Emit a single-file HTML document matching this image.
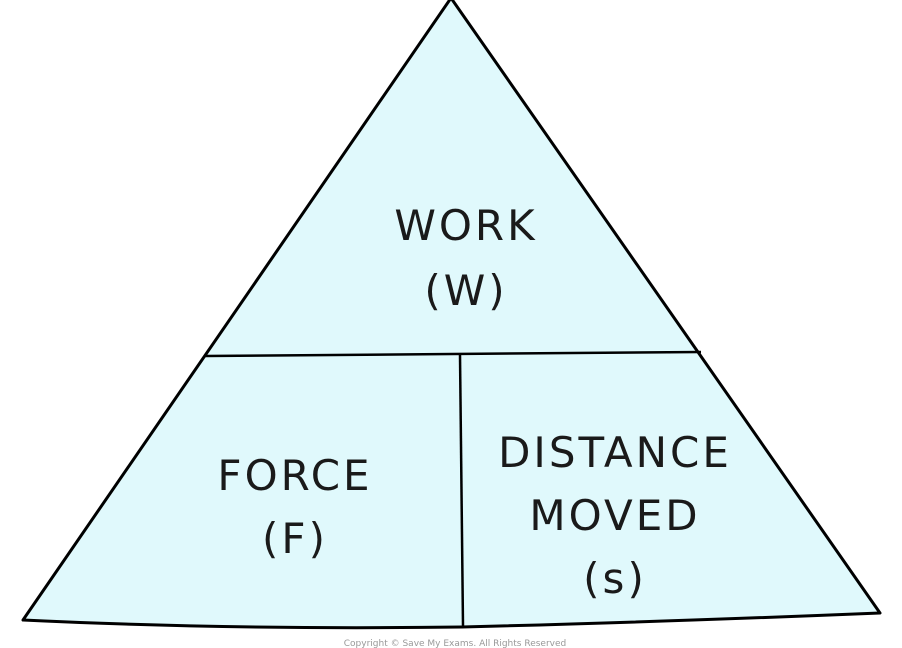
<!DOCTYPE html>
<html><head><style>
html,body{margin:0;padding:0;background:#fff;}
svg{display:block;}
text{font-family:"DejaVu Sans","Liberation Sans",sans-serif;fill:#1a1a1a;}
</style></head><body>
<svg width="902" height="648" viewBox="0 0 902 648" xmlns="http://www.w3.org/2000/svg">
<path d="M451,-2 L880,613 Q660,622 462,627 Q230,630 23,620 Z" fill="#e0f9fc" stroke="#000" stroke-width="3" stroke-linejoin="round"/>
<line x1="205" y1="356" x2="701" y2="352" stroke="#000" stroke-width="2.5"/>
<line x1="460" y1="355" x2="463" y2="626" stroke="#000" stroke-width="2.5"/>
<g font-size="42" text-anchor="middle" letter-spacing="3" style="font-family:'Liberation Sans Narrow','DejaVu Sans Condensed','DejaVu Sans',sans-serif">
<text x="466" y="240">WORK</text>
<text x="466" y="305">(W)</text>
<text x="295" y="490">FORCE</text>
<text x="295" y="553">(F)</text>
<text x="615" y="467">DISTANCE</text>
<text x="615" y="530">MOVED</text>
<text x="615" y="593">(s)</text>
</g>
<text x="455" y="646" font-size="9" text-anchor="middle" style="fill:#999">Copyright © Save My Exams. All Rights Reserved</text>
</svg>
</body></html>
